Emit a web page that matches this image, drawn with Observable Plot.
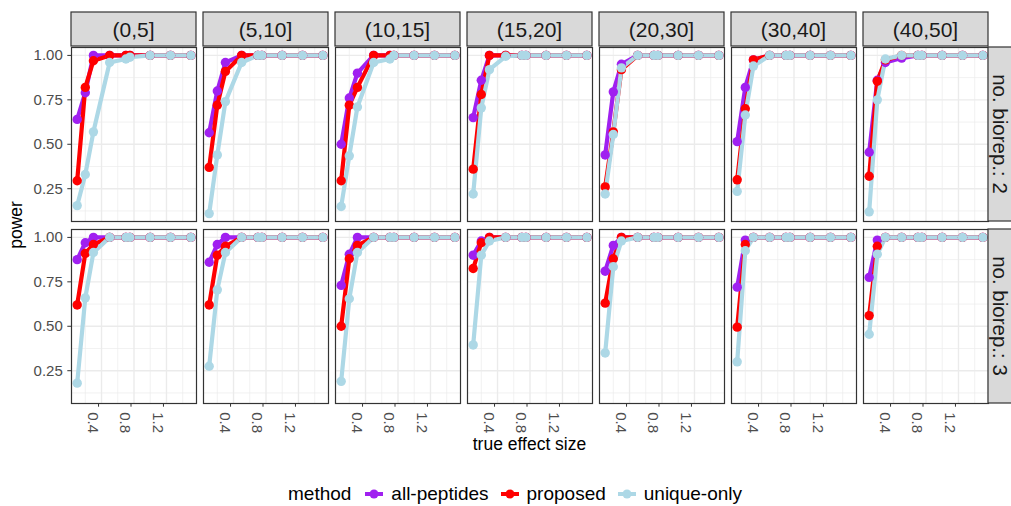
<!DOCTYPE html>
<html>
<head>
<meta charset="utf-8">
<script src="https://cdn.jsdelivr.net/npm/d3@7"></script>
<script src="https://cdn.jsdelivr.net/npm/@observablehq/plot@0.6"></script>
<style>
  html, body { margin: 0; padding: 0; background: #ffffff; }
  body { font-family: "Liberation Sans", Arial, Helvetica, sans-serif; width: 1011px; }
  #legend { display: flex; align-items: center; justify-content: center; height: 30px; padding-top: 3px; padding-left: 19px; font-size: 19px; color: #000; }
  #legend .title { margin-right: 14px; }
  #legend .item { display: flex; align-items: center; margin-right: 12px; }
  #legend .item:last-child { margin-right: 0; }
  #legend .item svg { margin-right: 8px; }
</style>
</head>
<body>
<div id="chart"></div>
<div id="legend"></div>
<script>
// ---------------- data ----------------
const bins = ["(0,5]", "(5,10]", "(10,15]", "(15,20]", "(20,30]", "(30,40]", "(40,50]"];
const bioreps = ["no. biorep.: 2", "no. biorep.: 3"];
const methods = ["all-peptides", "proposed", "unique-only"];
const methodColors = ["#A020F0", "#FF0000", "#ADD8E6"];
const effectSizes = [0.1, 0.2, 0.3, 0.5, 0.7, 0.75, 1.0, 1.25, 1.5];
const xTicks = [0.4, 0.8, 1.2];
const xMinor = [0.2, 0.6, 1.0, 1.4];
const yTicks = [0.25, 0.5, 0.75, 1.0];
const yMinor = [0.125, 0.375, 0.625, 0.875];

// power per bin (rows) at each effect size (columns)
const allPeptidesRep2 = [
  [0.64, 0.79, 1.00, 1, 1, 1, 1, 1, 1],
  [0.565, 0.80, 0.96, 1, 1, 1, 1, 1, 1],
  [0.50, 0.76, 0.90, 1, 1, 1, 1, 1, 1],
  [0.65, 0.86, 1.00, 1, 1, 1, 1, 1, 1],
  [0.44, 0.795, 0.95, 1, 1, 1, 1, 1, 1],
  [0.515, 0.82, 0.975, 1, 1, 1, 1, 1, 1],
  [0.455, 0.86, 0.96, 0.985, 1, 1, 1, 1, 1]
];
const proposedRep2 = [
  [0.295, 0.82, 0.97, 1, 1, 1, 1, 1, 1],
  [0.37, 0.72, 0.91, 1, 1, 1, 1, 1, 1],
  [0.295, 0.72, 0.82, 1, 1, 1, 1, 1, 1],
  [0.36, 0.78, 1.00, 1, 1, 1, 1, 1, 1],
  [0.26, 0.57, 0.92, 1, 1, 1, 1, 1, 1],
  [0.30, 0.70, 0.975, 1, 1, 1, 1, 1, 1],
  [0.32, 0.855, 0.975, 1, 1, 1, 1, 1, 1]
];
const uniqueOnlyRep2 = [
  [0.155, 0.33, 0.57, 0.96, 0.98, 0.99, 1, 1, 1],
  [0.11, 0.44, 0.74, 0.96, 1, 1, 1, 1, 1],
  [0.15, 0.435, 0.71, 0.96, 0.98, 1, 1, 1, 1],
  [0.22, 0.705, 0.92, 0.995, 1, 1, 1, 1, 1],
  [0.22, 0.555, 0.93, 1, 1, 1, 1, 1, 1],
  [0.235, 0.665, 0.94, 1, 1, 1, 1, 1, 1],
  [0.12, 0.75, 0.98, 1, 1, 1, 1, 1, 1]
];
const allPeptidesRep3 = [
  [0.875, 0.97, 1, 1, 1, 1, 1, 1, 1],
  [0.86, 0.96, 1, 1, 1, 1, 1, 1, 1],
  [0.73, 0.905, 1, 1, 1, 1, 1, 1, 1],
  [0.90, 0.98, 1, 1, 1, 1, 1, 1, 1],
  [0.81, 0.955, 1, 1, 1, 1, 1, 1, 1],
  [0.72, 0.985, 1, 1, 1, 1, 1, 1, 1],
  [0.775, 0.985, 1, 1, 1, 1, 1, 1, 1]
];
const proposedRep3 = [
  [0.62, 0.91, 0.96, 1, 1, 1, 1, 1, 1],
  [0.62, 0.90, 0.95, 1, 1, 1, 1, 1, 1],
  [0.50, 0.88, 0.955, 1, 1, 1, 1, 1, 1],
  [0.825, 0.97, 1, 1, 1, 1, 1, 1, 1],
  [0.63, 0.88, 1, 1, 1, 1, 1, 1, 1],
  [0.495, 0.96, 1, 1, 1, 1, 1, 1, 1],
  [0.56, 0.95, 1, 1, 1, 1, 1, 1, 1]
];
const uniqueOnlyRep3 = [
  [0.18, 0.66, 0.915, 1, 1, 1, 1, 1, 1],
  [0.275, 0.705, 0.915, 1, 1, 1, 1, 1, 1],
  [0.19, 0.655, 0.915, 1, 1, 1, 1, 1, 1],
  [0.395, 0.90, 0.98, 1, 1, 1, 1, 1, 1],
  [0.35, 0.835, 0.98, 1, 1, 1, 1, 1, 1],
  [0.30, 0.925, 1, 1, 1, 1, 1, 1, 1],
  [0.455, 0.905, 1, 1, 1, 1, 1, 1, 1]
];

const series = [
  [allPeptidesRep2, proposedRep2, uniqueOnlyRep2],
  [allPeptidesRep3, proposedRep3, uniqueOnlyRep3]
];

const rows = [];
series.forEach((byMethod, r) => byMethod.forEach((byBin, m) => byBin.forEach((vals, b) => vals.forEach((v, i) => {
  rows.push({biorep: bioreps[r], method: methods[m], bin: bins[b], x: effectSizes[i], y: v});
}))));

// ---------------- layout ----------------
const W = 1011, H = 476;
const mTop = 46, mBottom = 73, mLeft = 71, mRight = 23;
const font = '"Liberation Sans", Arial, Helvetica, sans-serif';

const plot = Plot.plot({
  width: W, height: H,
  marginTop: mTop, marginBottom: mBottom, marginLeft: mLeft, marginRight: mRight,
  style: {fontFamily: font, background: "#ffffff", overflow: "visible"},
  fx: {domain: bins, paddingInner: 0.055, paddingOuter: 0, axis: null, label: null},
  fy: {domain: bioreps, paddingInner: 0.045, paddingOuter: 0, axis: null, label: null},
  x: {domain: [0.03, 1.57], label: null},
  y: {domain: [0.0655, 1.0445], label: null},
  color: {domain: methods, range: methodColors},
  marks: [
    Plot.ruleX(xMinor, {stroke: "#EBEBEB", strokeWidth: 0.7}),
    Plot.ruleY(yMinor, {stroke: "#EBEBEB", strokeWidth: 0.7}),
    Plot.ruleX(xTicks, {stroke: "#EBEBEB", strokeWidth: 1.4}),
    Plot.ruleY(yTicks, {stroke: "#EBEBEB", strokeWidth: 1.4}),
    Plot.line(rows, {x: "x", y: "y", z: "method", stroke: "method", fx: "bin", fy: "biorep", strokeWidth: 4.2, strokeLinejoin: "round", strokeLinecap: "butt"}),
    Plot.dot(rows, {x: "x", y: "y", fill: "method", fx: "bin", fy: "biorep", r: 4.7, stroke: null}),
    Plot.frame({stroke: "#333333", strokeWidth: 1.2}),
    Plot.axisX({ticks: xTicks, tickFormat: d3.format(".1f"), tickRotate: 90, tickSize: 3.7, tickPadding: 5, dx: -3,
      fontSize: 15, fill: "#4D4D4D", stroke: "#333333", label: null, textAnchor: "start", lineAnchor: "top"}),
    Plot.axisY({ticks: yTicks, tickFormat: d3.format(".2f"), tickSize: 3.7, tickPadding: 5,
      fontSize: 15, fill: "#4D4D4D", stroke: "#333333", label: null})
  ]
});

document.getElementById("chart").appendChild(plot);

// ---------------- strips and axis titles ----------------
const fxS = plot.scale("fx"), fyS = plot.scale("fy");
const svg = d3.select(plot);
const deco = svg.append("g").attr("font-family", font);
const stripH = 34;
bins.forEach(b => {
  const x0 = fxS.apply(b), bw = fxS.bandwidth;
  deco.append("rect").attr("x", x0).attr("y", mTop - stripH).attr("width", bw).attr("height", stripH)
    .attr("fill", "#D9D9D9").attr("stroke", "#333333").attr("stroke-width", 1.2);
  deco.append("text").attr("x", x0 + bw / 2).attr("y", mTop - stripH / 2).attr("dy", "0.38em")
    .attr("text-anchor", "middle").attr("font-size", 21).attr("fill", "#1A1A1A").text(b);
});
bioreps.forEach(r => {
  const y0 = fyS.apply(r), bh = fyS.bandwidth;
  const x0 = W - mRight;
  deco.append("rect").attr("x", x0).attr("y", y0).attr("width", 30).attr("height", bh)
    .attr("fill", "#D9D9D9").attr("stroke", "#333333").attr("stroke-width", 1.2);
  deco.append("text").attr("transform", `translate(${x0 + 12},${y0 + bh / 2}) rotate(90)`)
    .attr("text-anchor", "middle").attr("dy", "0.36em").attr("font-size", 20.5).attr("fill", "#1A1A1A").text(r);
});
const fxRange = [fxS.apply(bins[0]), fxS.apply(bins[bins.length - 1]) + fxS.bandwidth];
const fyRange = [fyS.apply(bioreps[0]), fyS.apply(bioreps[bioreps.length - 1]) + fyS.bandwidth];
deco.append("text").attr("x", (fxRange[0] + fxRange[1]) / 2).attr("y", 450)
  .attr("text-anchor", "middle").attr("font-size", 17.5).attr("fill", "#000").text("true effect size");
deco.append("text").attr("transform", `translate(22,${(fyRange[0] + fyRange[1]) / 2}) rotate(-90)`)
  .attr("text-anchor", "middle").attr("font-size", 17.5).attr("fill", "#000").text("power");

// ---------------- legend ----------------
const legend = d3.select("#legend");
legend.append("span").attr("class", "title").text("method");
methods.forEach((m, i) => {
  const item = legend.append("span").attr("class", "item");
  const k = item.append("svg").attr("width", 18).attr("height", 18);
  k.append("line").attr("x1", 0).attr("x2", 18).attr("y1", 9).attr("y2", 9)
    .attr("stroke", methodColors[i]).attr("stroke-width", 4);
  k.append("circle").attr("cx", 9).attr("cy", 9).attr("r", 4.5).attr("fill", methodColors[i]);
  item.append("span").text(m);
});
</script>
</body>
</html>
